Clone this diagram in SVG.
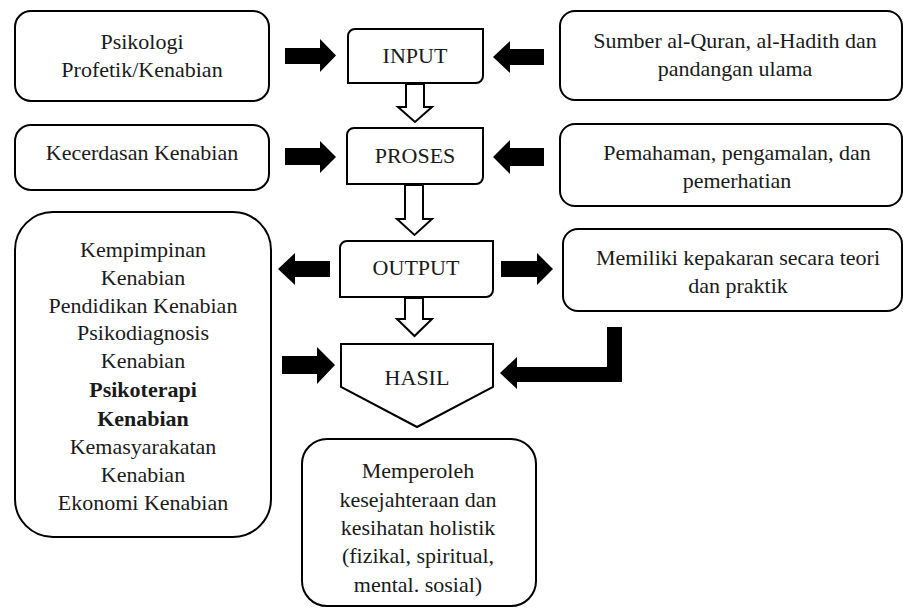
<svg xmlns="http://www.w3.org/2000/svg" width="903" height="608" viewBox="0 0 903 608">
<style>
.box{fill:#fff;stroke:#000;stroke-width:2}
.t{font-size:22px;fill:#1a1a1a;text-anchor:middle}
.b{font-weight:bold}
.solid{fill:#000;stroke:none}
.hollow{fill:#fff;stroke:#000;stroke-width:2;stroke-linejoin:miter}
</style>
<rect width="903" height="608" fill="#fff"/>
<g id="connectors">
<polygon class="solid" points="285,48 320,48 320,39 336,55.5 320,72 320,64 285,64"/>
<polygon class="solid" points="544,49 510,49 510,41 493,57 510,73 510,65 544,65"/>
<polygon class="solid" points="285,148 320,148 320,141 336,157 320,173 320,165 285,165"/>
<polygon class="solid" points="544,148 510,148 510,140 493,157 510,174 510,166 544,166"/>
<polygon class="solid" points="330,261 295,261 295,253 278,269 295,285 295,277 330,277"/>
<polygon class="solid" points="501,261 537,261 537,253 553,269 537,285 537,277 501,277"/>
<polygon class="solid" points="282,356 317,356 317,347 335,365 317,384 317,374 282,374"/>
<polygon class="solid" points="607,327 622,327 622,382 517,382 517,389 500,373 517,357 517,367 607,367"/>
<path class="hollow" d="M406,84 V107 H398 L415,122 L432,107 H424 V84 Z"/>
<path class="hollow" d="M405,185 V219 H397 L414.5,235 L432,219 H423 V185 Z"/>
<path class="hollow" d="M405,298 V319 H397 L414.5,336 L432,319 H423 V298 Z"/>
</g>
<g font-family="Liberation Serif, serif">
<g id="psikologi">
<rect class="box" x="15" y="11" width="254" height="90" rx="16"/>
<text class="t" x="142" y="49">Psikologi</text>
<text class="t" x="142" y="77">Profetik/Kenabian</text>
</g>
<g id="kecerdasan">
<rect class="box" x="15" y="125" width="254" height="65" rx="16"/>
<text class="t" x="142" y="160">Kecerdasan Kenabian</text>
</g>
<g id="input">
<path class="box" d="M355,29 H483 V76 A7,7 0 0 1 476,83 H348 V36 A7,7 0 0 1 355,29 Z"/>
<text class="t" x="415" y="63">INPUT</text>
</g>
<g id="proses">
<path class="box" d="M354,128 H483 V177 A7,7 0 0 1 476,184 H347 V135 A7,7 0 0 1 354,128 Z"/>
<text class="t" x="415" y="163">PROSES</text>
</g>
<g id="output">
<path class="box" d="M347,241 H493 V290 A7,7 0 0 1 486,297 H340 V248 A7,7 0 0 1 347,241 Z"/>
<text class="t" x="416" y="275">OUTPUT</text>
</g>
<g id="hasil">
<polygon class="box" points="341,344 493,344 493,387 417,427 341,387"/>
<text class="t" x="417" y="385">HASIL</text>
</g>
<g id="sumber">
<rect class="box" x="560" y="11" width="342" height="89" rx="15"/>
<text class="t" x="735" y="48">Sumber al-Quran, al-Hadith dan</text>
<text class="t" x="735" y="76">pandangan ulama</text>
</g>
<g id="pemahaman">
<rect class="box" x="560" y="124" width="342" height="82" rx="15"/>
<text class="t" x="737" y="160">Pemahaman, pengamalan, dan</text>
<text class="t" x="737" y="188">pemerhatian</text>
</g>
<g id="memiliki">
<rect class="box" x="563" y="229" width="339" height="82" rx="15"/>
<text class="t" x="738" y="265">Memiliki kepakaran secara teori</text>
<text class="t" x="738" y="293">dan praktik</text>
</g>
<g id="bidang">
<rect class="box" x="15" y="212" width="256" height="325" rx="38"/>
<text class="t" x="143" y="257">Kempimpinan</text>
<text class="t" x="143" y="285">Kenabian</text>
<text class="t" x="143" y="313">Pendidikan Kenabian</text>
<text class="t" x="143" y="340">Psikodiagnosis</text>
<text class="t" x="143" y="368">Kenabian</text>
<text class="t b" x="143" y="397">Psikoterapi</text>
<text class="t b" x="143" y="426">Kenabian</text>
<text class="t" x="143" y="454">Kemasyarakatan</text>
<text class="t" x="143" y="482">Kenabian</text>
<text class="t" x="143" y="510">Ekonomi Kenabian</text>
</g>
<g id="memperoleh">
<rect class="box" x="302" y="439" width="234" height="167" rx="25"/>
<text class="t" x="418" y="478">Memperoleh</text>
<text class="t" x="418" y="507">kesejahteraan dan</text>
<text class="t" x="418" y="535">kesihatan holistik</text>
<text class="t" x="418" y="563">(fizikal, spiritual,</text>
<text class="t" x="418" y="592">mental. sosial)</text>
</g>
</g>
</svg>
